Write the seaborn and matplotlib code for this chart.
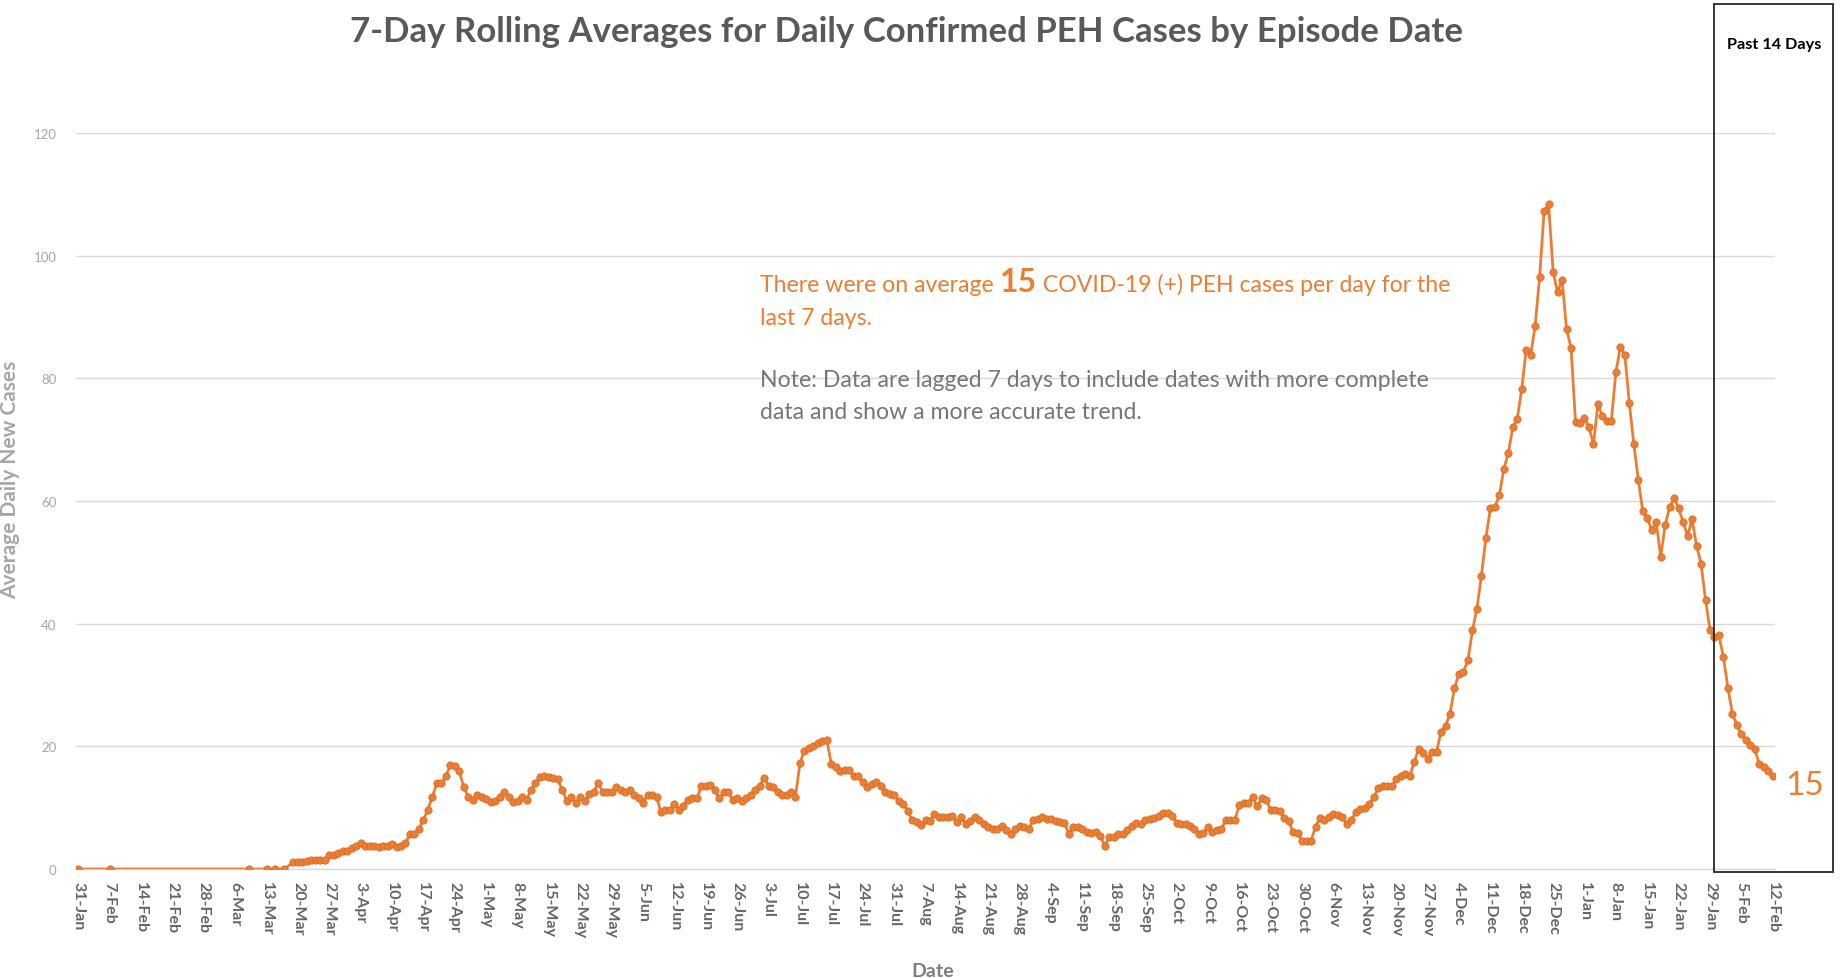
import numpy as np
import pandas as pd
import matplotlib
matplotlib.use("Agg")
import matplotlib.pyplot as plt
import matplotlib.patches as patches
import seaborn as sns

ORANGE = "#ED7D31"
GRAY_TEXT = "#595959"
LIGHT_GRAY = "#A6A6A6"

# sparse early points (no daily data yet)
sparse_dates = ["2020-01-31", "2020-02-07", "2020-03-09", "2020-03-13", "2020-03-15", "2020-03-17"]
sparse_values = [0, 0, 0, 0, 0, 0]

# daily 7-day rolling averages starting 19-Mar-2020
daily_start = "2020-03-19"
# 19-Mar .. 29-Apr
spring = [1.1, 1.2, 1.2, 1.3, 1.4, 1.5, 1.5, 1.5, 2.3, 2.3,
          2.6, 2.9, 2.9, 3.5, 3.7, 4.2, 3.8, 3.8, 3.7, 3.6,
          3.8, 3.8, 4.1, 3.6, 3.7, 4.2, 5.7, 5.7, 6.6, 8.0,
          9.7, 11.8, 14.0, 14.0, 15.1, 17.0, 16.8, 15.9, 13.4, 11.7,
          11.3, 12.1]
# 30-Apr .. 28-Jul
summer = [11.8, 11.4, 10.9, 11.1, 11.8, 12.5, 11.7, 10.9, 11.1, 11.7,
          11.3, 12.9, 14.0, 15.0, 15.2, 15.0, 14.8, 14.6, 12.8, 11.1,
          11.7, 10.8, 11.7, 11.1, 12.2, 12.6, 14.0, 12.6, 12.6, 12.6,
          13.3, 12.9, 12.5, 12.8, 12.0, 11.5, 10.8, 12.1, 12.1, 11.7,
          9.3, 9.6, 9.7, 10.6, 9.7, 10.3, 11.3, 11.5, 11.5, 13.5,
          13.5, 13.7, 12.8, 11.5, 12.5, 12.6, 11.3, 11.5, 11.1, 11.5,
          12.1, 12.8, 13.6, 14.8, 13.6, 13.3, 12.6, 12.0, 12.1, 12.6,
          11.8, 17.3, 19.3, 19.7, 20.0, 20.5, 20.9, 21.0, 17.1, 16.6,
          15.9, 16.2, 16.2, 15.1, 15.1, 14.2, 13.3, 13.8, 14.2, 13.6]
# 29-Jul .. 25-Oct
autumn = [12.6, 12.2, 12.1, 11.1, 10.6, 9.5, 8.0, 7.6, 7.2, 8.0,
          7.9, 9.0, 8.4, 8.4, 8.4, 8.6, 7.6, 8.4, 7.3, 7.9,
          8.4, 8.0, 7.3, 6.8, 6.5, 6.6, 7.0, 6.3, 5.7, 6.5,
          7.0, 6.8, 6.5, 8.0, 8.2, 8.4, 8.2, 8.2, 7.9, 7.6,
          7.5, 5.7, 6.8, 6.8, 6.6, 6.1, 5.9, 6.0, 5.4, 3.8,
          5.2, 5.2, 5.7, 5.7, 6.4, 7.0, 7.5, 7.3, 8.0, 8.2,
          8.3, 8.6, 9.1, 9.1, 8.6, 7.5, 7.3, 7.3, 7.0, 6.6,
          5.7, 5.8, 6.8, 6.1, 6.4, 6.5, 8.0, 8.0, 8.0, 10.4,
          10.8, 10.8, 11.7, 10.2, 11.5, 11.3, 9.6, 9.7, 9.5]
# 26-Oct .. 8-Dec
late_fall = [8.3, 7.9, 6.0, 5.9, 4.6, 4.5, 4.6, 6.9, 8.3, 8.0,
             8.4, 9.0, 8.8, 8.4, 7.3, 8.0, 9.3, 9.8, 9.9, 10.6,
             11.7, 13.2, 13.6, 13.5, 13.5, 14.7, 15.1, 15.5, 15.1, 17.4,
             19.6, 18.9, 18.0, 19.1, 19.1, 22.4, 23.3, 25.3, 29.5, 31.8,
             32.2, 34.0, 38.9, 42.4]
# 9-Dec .. 17-Jan
winter = [47.8, 53.9, 58.8, 59.0, 60.9, 65.2, 67.8, 72.0, 73.4, 78.2,
          84.7, 83.8, 88.6, 96.6, 107.3, 108.4, 97.4, 94.0, 96.1, 88.0,
          85.0, 72.9, 72.7, 73.6, 72.0, 69.3, 75.8, 73.8, 73.1, 73.1,
          81.0, 85.1, 83.8, 76.0, 69.3, 63.5, 58.3, 57.3, 55.2, 56.6]
# 18-Jan .. 12-Feb
recent = [50.9, 56.1, 59.0, 60.5, 58.8, 56.6, 54.3, 57.0, 52.7, 49.8,
          43.9, 39.0, 37.9, 38.1, 34.5, 29.5, 25.3, 23.5, 22.0, 21.1,
          20.2, 19.5, 17.1, 16.6, 15.9, 15.1]

last_week_avg = 15

daily_values = spring + summer + autumn + late_fall + winter + recent
dates = pd.to_datetime(sparse_dates).append(
    pd.date_range(daily_start, periods=len(daily_values), freq="D"))
df = pd.DataFrame({"date": dates, "cases": sparse_values + daily_values})

sns.set_style("white")
plt.rcParams["font.family"] = ["Lato", "DejaVu Sans"]

W, H = 1841, 979
fig = plt.figure(figsize=(W / 100, H / 100), dpi=100)
ax = fig.add_axes([76 / W, 1 - 870 / H, (1775 - 76) / W, (870 - 134) / H])

sns.lineplot(data=df, x="date", y="cases", ax=ax, color=ORANGE, linewidth=2.0,
             marker="o", markersize=5.3, markerfacecolor=ORANGE,
             markeredgecolor="#cf6a28", markeredgewidth=0.5, zorder=3)

ax.set_ylim(0, 120)
ax.set_yticks(range(0, 121, 20))
ax.set_xlim(df["date"].iloc[0] - pd.Timedelta(hours=12),
            df["date"].iloc[-1] + pd.Timedelta(hours=12))
ticks = pd.date_range("2020-01-31", "2021-02-12", freq="7D")
ax.set_xticks(ticks)
ax.set_xticklabels([f"{d.day}-{d:%b}" for d in ticks], rotation=270,
                   fontsize=11.5, fontweight="bold", color="#666666",
                   ha="center", va="top")
ax.tick_params(axis="y", length=0, pad=14, labelsize=9.5, labelcolor=LIGHT_GRAY)
ax.tick_params(axis="x", length=5, width=1, color="#D9D9D9", pad=4, direction="out")
ax.grid(axis="y", color="#D9D9D9", linewidth=1)
ax.grid(axis="x", visible=False)
for side in ["left", "top", "right"]:
    ax.spines[side].set_visible(False)
ax.spines["bottom"].set_color("#D9D9D9")
ax.spines["bottom"].set_linewidth(1)

ax.set_ylabel("Average Daily New Cases", fontsize=15, fontweight="bold", color=LIGHT_GRAY)
ax.yaxis.set_label_coords(-0.033, 0.53)
ax.set_xlabel("")
fig.text(933 / W, 1 - 972 / H, "Date", ha="center", va="center",
         fontsize=14, fontweight="bold", color="#7F7F7F")

fig.text(906 / W, 1 - 32 / H,
         "7-Day Rolling Averages for Daily Confirmed PEH Cases by Episode Date",
         ha="center", va="center", fontsize=25, fontweight="bold", color=GRAY_TEXT)

# annotation with a bigger bold number inside the first line
renderer = fig.canvas.get_renderer()
x0, y1 = 760, 292
pieces = [("There were on average ", 16.6, "normal"),
          (f"{last_week_avg}", 23, "bold"),
          (" COVID-19 (+) PEH cases per day for the", 16.6, "normal")]
x = x0
for txt, size, weight in pieces:
    t = fig.text(x / W, 1 - y1 / H, txt, fontsize=size, fontweight=weight,
                 color=ORANGE, va="baseline", ha="left")
    x += t.get_window_extent(renderer).width
fig.text(x0 / W, 1 - 325 / H, "last 7 days.", fontsize=16.6, color=ORANGE,
         va="baseline", ha="left")
fig.text(x0 / W, 1 - 387 / H,
         "Note: Data are lagged 7 days to include dates with more complete",
         fontsize=16.6, color="#767676", va="baseline", ha="left")
fig.text(x0 / W, 1 - 419 / H, "data and show a more accurate trend.",
         fontsize=16.6, color="#767676", va="baseline", ha="left")

# value label at the last point
ax.annotate(f"{last_week_avg}", xy=(df["date"].iloc[-1], df["cases"].iloc[-1]),
            xytext=(9, -6), textcoords="offset points", va="center", ha="left",
            fontsize=24, color=ORANGE)

# "Past 14 Days" box
box = patches.Rectangle((1714 / W, 1 - 873 / H), (1833 - 1714) / W, (873 - 5) / H,
                        transform=fig.transFigure, fill=False,
                        edgecolor="#262626", linewidth=1.3)
fig.add_artist(box)
fig.text(1774 / W, 1 - 45 / H, "Past 14 Days", ha="center", va="center",
         fontsize=11.7, fontweight="bold", color="black")

fig.savefig("out.png", dpi=100)
